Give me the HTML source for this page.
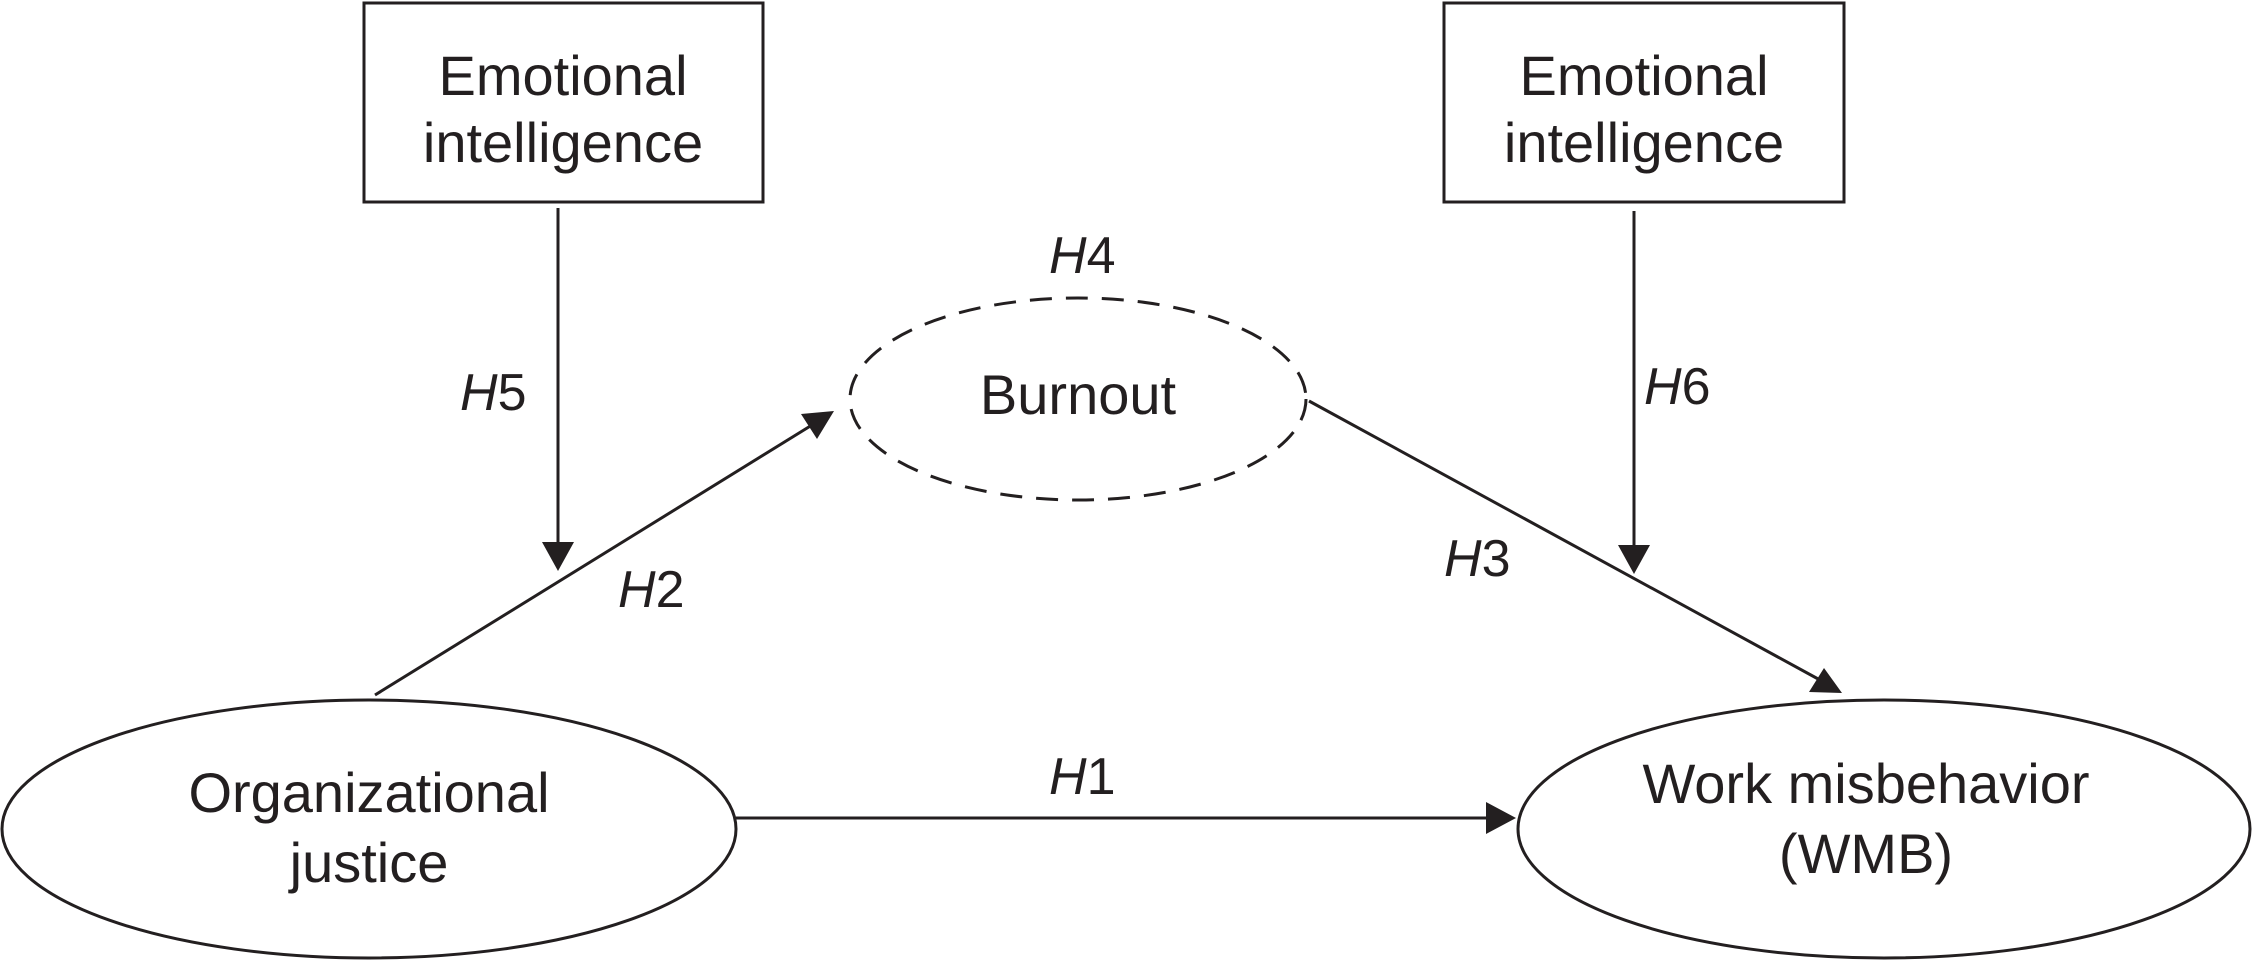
<!DOCTYPE html>
<html><head><style>
html,body{margin:0;padding:0;background:#fff;}
svg{display:block;}
text{font-family:"Liberation Sans",Arial,sans-serif;fill:#231f20;}
</style></head><body>
<svg width="2253" height="961" viewBox="0 0 2253 961" xmlns="http://www.w3.org/2000/svg">
<g stroke="#231f20" stroke-width="3" fill="none">
<rect x="364" y="3" width="399" height="199"/>
<rect x="1444" y="3" width="400" height="199"/>
<ellipse cx="1078" cy="399" rx="228" ry="101" stroke-dasharray="22,14"/>
<ellipse cx="369" cy="829" rx="367" ry="129"/>
<ellipse cx="1884" cy="829" rx="366" ry="129"/>
<line x1="558" y1="208" x2="558" y2="545"/>
<line x1="1634" y1="211" x2="1634" y2="548"/>
<line x1="375" y1="695" x2="812" y2="425"/>
<line x1="1309" y1="401" x2="1820" y2="680"/>
<line x1="736" y1="818" x2="1488" y2="818"/>
</g>
<g fill="#231f20">
<polygon points="542,542 574,542 558,571"/>
<polygon points="1618,545 1650,545 1634,574"/>
<polygon points="1516,818 1486,802 1486,834"/>
<polygon points="834,411 801,414 817,439"/>
<polygon points="1842,693 1809,692 1824,668"/>
</g>
<g font-size="56" text-anchor="middle">
<text x="563" y="95">Emotional</text>
<text x="563" y="162">intelligence</text>
<text x="1644" y="95">Emotional</text>
<text x="1644" y="162">intelligence</text>
<text x="1078" y="414">Burnout</text>
<text x="369" y="812">Organizational</text>
<text x="369" y="882">justice</text>
<text x="1866" y="803">Work misbehavior</text>
<text x="1866" y="873">(WMB)</text>
</g>
<g font-size="52">
<text x="460" y="410"><tspan font-style="italic">H</tspan>5</text>
<text x="618" y="607"><tspan font-style="italic">H</tspan>2</text>
<text x="1049" y="273"><tspan font-style="italic">H</tspan>4</text>
<text x="1049" y="794"><tspan font-style="italic">H</tspan>1</text>
<text x="1644" y="404"><tspan font-style="italic">H</tspan>6</text>
<text x="1444" y="576"><tspan font-style="italic">H</tspan>3</text>
</g>
</svg>
</body></html>
